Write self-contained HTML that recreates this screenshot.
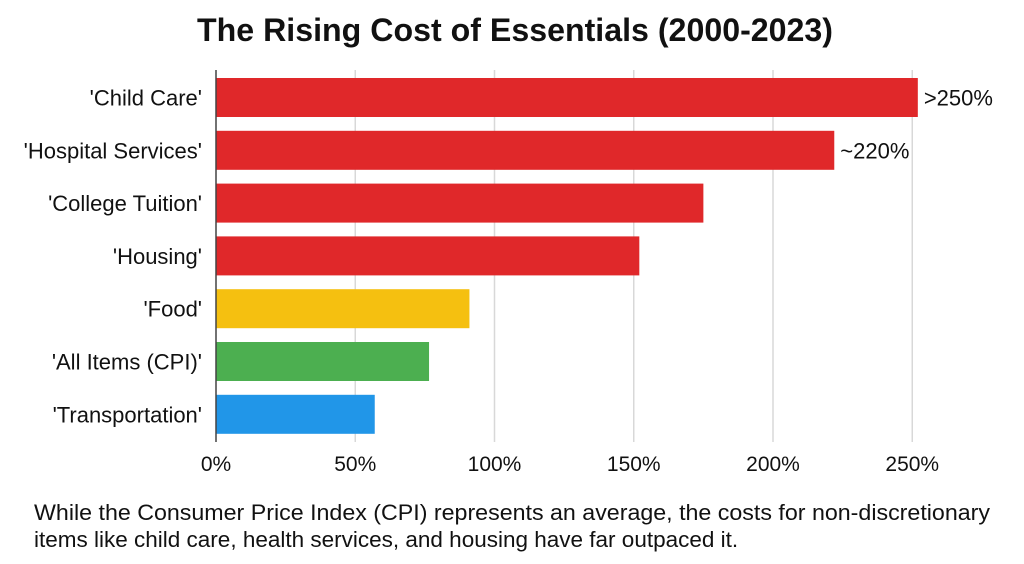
<!DOCTYPE html>
<html><head><meta charset="utf-8"><style>
body{margin:0;background:#fff;width:1024px;height:559px;overflow:hidden;font-family:"Liberation Sans",sans-serif}
</style></head><body>
<svg id="chart" width="1024" height="559" xmlns="http://www.w3.org/2000/svg">
<text x="515" y="41" text-anchor="middle" font-size="32" font-weight="bold" fill="#111" textLength="636" lengthAdjust="spacingAndGlyphs">The Rising Cost of Essentials (2000-2023)</text>
<g id="grid"></g><g id="bars"></g><g id="labels"></g>
<text x="34" y="520" font-size="22.5" fill="#111" textLength="956" lengthAdjust="spacingAndGlyphs">While the Consumer Price Index (CPI) represents an average, the costs for non-discretionary</text>
<text x="34" y="547" font-size="22.5" fill="#111">items like child care, health services, and housing have far outpaced it.</text>
</svg>
<script>
const categories=["'Child Care'","'Hospital Services'","'College Tuition'","'Housing'","'Food'","'All Items (CPI)'","'Transportation'"];
const values=[252,222,175,152,91,76.5,57];
const colors=["#e0282a","#e0282a","#e0282a","#e0282a","#f5c010","#4caf50","#2196e8"];
const annotations=[">250%","~220%","","","","",""];
const ticks=[0,50,100,150,200,250];
const NS="http://www.w3.org/2000/svg";
const x0=216,pxPer=2.785,rowTop=78,rowStep=52.8,barH=39;
const x=v=>x0+v*pxPer;
function mk(tag,attrs,parent,text){const e=document.createElementNS(NS,tag);for(const k in attrs)e.setAttribute(k,attrs[k]);if(text!==undefined)e.textContent=text;document.getElementById(parent).appendChild(e);return e;}
ticks.forEach(t=>{
 if(t>0){const g=mk('line',{x1:x(t),x2:x(t),y1:70,y2:442,stroke:'#d8d8d8','stroke-width':1.5},'grid');
 
 }
 const l=mk('text',{x:x(t),y:471,'text-anchor':'middle','font-size':21,fill:'#111'},'labels',t+'%');
 
 
});
categories.forEach((c,i)=>{
 const y=rowTop+i*rowStep;
 const b=mk('rect',{x:x0,y:y,width:x(values[i])-x0,height:barH,fill:colors[i]},'bars');
 
 
 const t=mk('text',{x:202,y:y+barH/2+8,'text-anchor':'end','font-size':22,fill:'#111'},'labels',c);
 
 
 if(annotations[i]){const a=mk('text',{x:x(values[i])+6,y:y+barH/2+8,'font-size':22,fill:'#111'},'labels',annotations[i]);
 
 }
});
const ax=mk('line',{x1:x0,x2:x0,y1:70,y2:442,stroke:'#444','stroke-width':1.5},'labels');


</script>
</body></html>
